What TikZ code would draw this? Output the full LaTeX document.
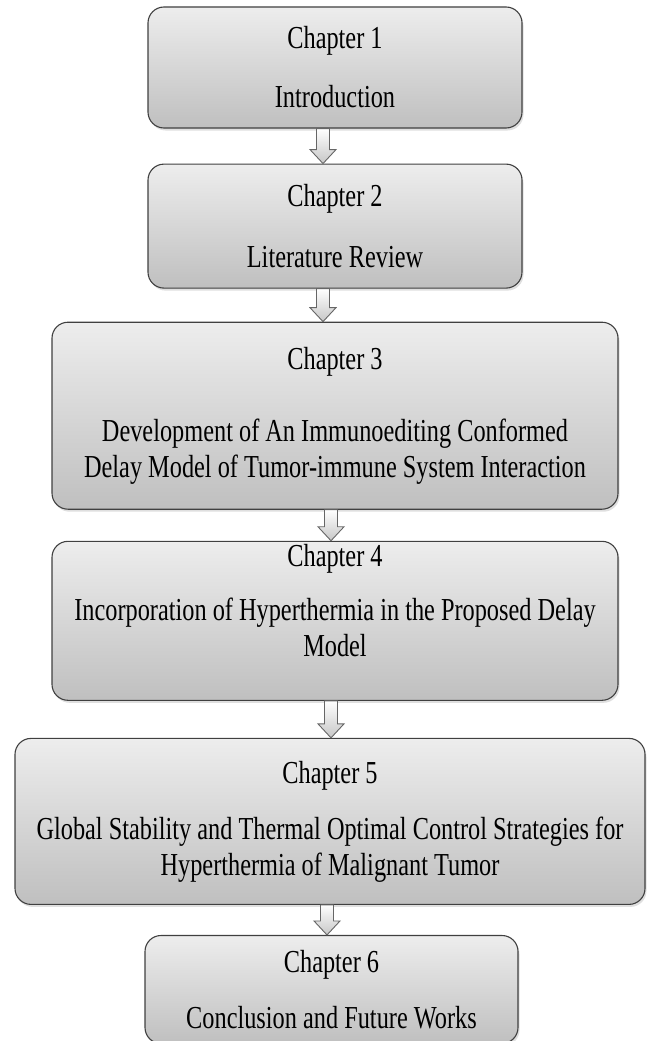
\documentclass[tikz,border=0pt]{standalone}
\usepackage{fontspec}
\setmainfont{Liberation Serif}[FakeStretch=0.76]
\usetikzlibrary{positioning,calc,shadows}

\begin{document}
\begin{tikzpicture}[
        chapterbox/.style={rectangle, rounded corners=16pt, draw=black!75, line width=1.1pt,
            top color=black!7, bottom color=black!25, align=center, text=black,
            font=\fontsize{32}{36}\selectfont, inner sep=0pt,
            drop shadow={shadow xshift=1.5pt, shadow yshift=-2.5pt, opacity=0.25}},
        blockarrow/.style={draw=black!60, top color=white, bottom color=black!22, line width=0.9pt,
            to path={let \p1=(\tikztostart), \p2=(\tikztotarget) in
                (\x1-6.5pt,\y1) -- (\x1-6.5pt,\y2+14pt) -- (\x1-13pt,\y2+14pt) -- (\x1,\y2)
                -- (\x1+13pt,\y2+14pt) -- (\x1+6.5pt,\y2+14pt) -- (\x1+6.5pt,\y1) -- cycle}},
        node distance=35pt]
        \useasboundingbox (0,0) rectangle (646pt,-1041pt);

            \node[chapterbox, minimum width=374pt, minimum height=121pt] (ch1) at (335pt,-67.5pt)
                {Chapter 1\\[23pt]Introduction};
            \node[chapterbox, minimum width=374pt, minimum height=124pt, below=35pt of ch1] (ch2)
                {Chapter 2\\[25pt]Literature Review};
            \node[chapterbox, minimum width=566pt, minimum height=187pt, below=33pt of ch2] (ch3)
                {Chapter 3\\[36pt]Development of An Immunoediting Conformed\\Delay Model of Tumor-immune System Interaction};
            \node[chapterbox, minimum width=566pt, minimum height=159pt, below=31pt of ch3] (ch4)
                {Chapter 4\\[18pt]Incorporation of Hyperthermia in the Proposed Delay\\Model\rule[-40pt]{0pt}{1pt}};
            \node[chapterbox, minimum width=630pt, minimum height=166pt, below=37pt of ch4, xshift=-5pt] (ch5)
                {Chapter 5\\[20pt]Global Stability and Thermal Optimal Control Strategies for\\Hyperthermia of Malignant Tumor};
            \node[chapterbox, minimum width=373pt, minimum height=108pt, below=30pt of ch5, xshift=1.5pt] (ch6)
                {Chapter 6\\[20pt]Conclusion and Future Works};

            % hollow arrows between chapters
            \foreach \a/\b/\dx in {ch1/ch2/-12pt, ch2/ch3/-12pt, ch3/ch4/-4pt, ch4/ch5/-4pt, ch5/ch6/-3pt}
              \draw[blockarrow] ([xshift=\dx]\a.south) to (\b.north);
        \end{tikzpicture}
\end{document}
